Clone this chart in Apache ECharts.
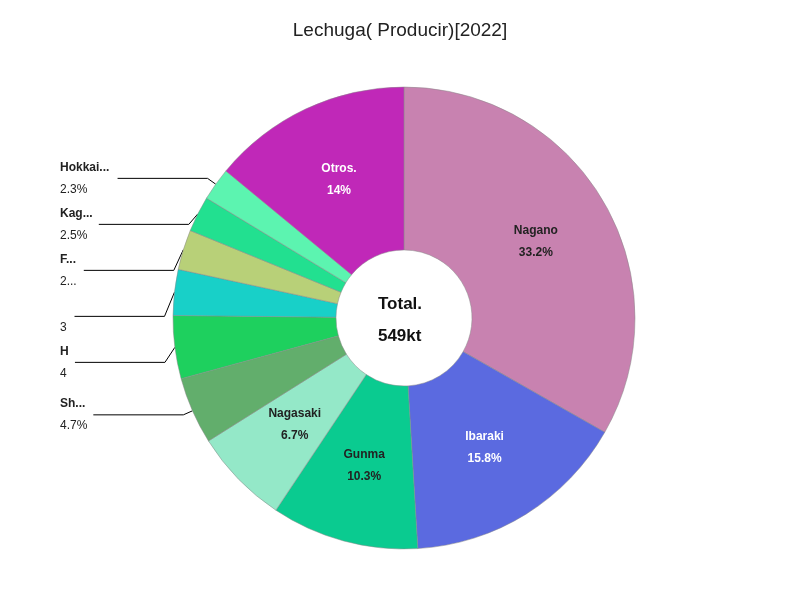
<!DOCTYPE html><html><head><meta charset="utf-8"><script src="https://cdn.jsdelivr.net/npm/echarts@6/dist/echarts.min.js"></script></head><body style="margin:0"><div id="c" style="width:800px;height:600px"></div><script>
const names=['Nagano','Ibaraki','Gunma','Nagasaki','Shizuoka','Hyogo','Kumamoto','Fukuoka','Kagawa','Hokkaido','Otros.'];
const values=[33.2,15.8,10.3,6.7,4.7,4.4,3.2,2.8,2.5,2.3,14];
const colors=['#c882b0','#5b6ae0','#0acb90','#94e8c8','#62ae6c','#1ed05e','#18d0c8','#b8d078','#22e090','#5cf4b0','#c028b8'];
const inside=[true,true,true,true,false,false,false,false,false,false,true];
const whiteText=[false,true,false,false,false,false,false,false,false,false,true];
const data=names.map((n,i)=>({name:n,value:values[i],itemStyle:{color:colors[i]},
 label:inside[i]?{position:'inside',color:whiteText[i]?'#fff':'#222',fontWeight:'bold',fontSize:12,lineHeight:22,formatter:'{b}\n{c}%'}:
 {position:'outside',alignTo:'edge',edgeDistance:60,color:'#222',fontSize:12,formatter:'{n|{b}}\n{c}%',lineHeight:22,rich:{n:{fontWeight:'bold',fontSize:12}}},
 labelLine:{show:!inside[i],length:10,length2:90,lineStyle:{color:'#000',width:1}}}));
const ch=echarts.init(document.getElementById('c'));
ch.setOption({title:{text:'Lechuga( Producir)[2022]',left:'center',top:16,textStyle:{fontWeight:'normal',fontSize:19,color:'#222'}},
graphic:[{type:'text',left:'center',top:288,style:{text:'Total.\n549kt',fill:'#111',font:'bold 17px sans-serif',lineHeight:32,align:'center'}}],
series:[{type:'pie',center:[404,318],radius:[68,231],startAngle:90,clockwise:true,data:data,
itemStyle:{borderColor:'#888',borderWidth:0.5},labelLayout:{hideOverlap:false}}]});
</script></body></html>
